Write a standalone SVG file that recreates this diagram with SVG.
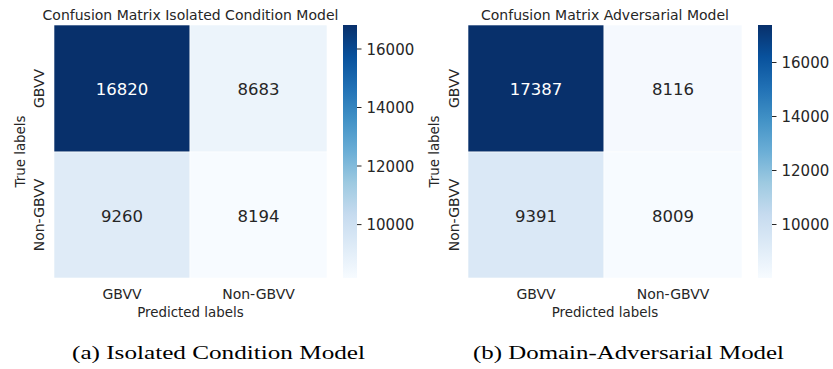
<svg xmlns="http://www.w3.org/2000/svg" width="833" height="369" viewBox="0 0 833 369">
<defs>
<linearGradient id="blues" x1="0" y1="1" x2="0" y2="0">
<stop offset="0" stop-color="#f7fbff"/>
<stop offset="0.125" stop-color="#deebf7"/>
<stop offset="0.25" stop-color="#c6dbef"/>
<stop offset="0.375" stop-color="#9ecae1"/>
<stop offset="0.5" stop-color="#6baed6"/>
<stop offset="0.625" stop-color="#4292c6"/>
<stop offset="0.75" stop-color="#2171b5"/>
<stop offset="0.875" stop-color="#08519c"/>
<stop offset="1" stop-color="#08306b"/>
</linearGradient>
<style>
text{font-family:"DejaVu Sans","Liberation Sans",sans-serif;fill:#262626}
.title{font-size:14px;text-anchor:middle}
.tick{font-size:14px;text-anchor:middle}
.cb{font-size:15px}
.axl{font-size:13.4px;text-anchor:middle}
.num{font-size:16.5px;text-anchor:middle}
.wt{fill:#ffffff}
.cell{stroke:#ffffff;stroke-width:0.6}
.tk{stroke:#262626;stroke-width:1}
.cap{font-family:"Liberation Serif","DejaVu Serif",serif;font-size:19px;fill:#000000}
</style>
</defs>
<rect width="833" height="369" fill="#ffffff"/>

<g id="matrix-a">
<text class="title" x="190.5" y="20">Confusion Matrix Isolated Condition Model</text>
<rect class="cell" x="54" y="25" width="136" height="127" fill="#08306b"/>
<rect class="cell" x="190" y="25" width="137" height="127" fill="#ecf4fb"/>
<rect class="cell" x="54" y="152" width="136" height="126" fill="#dfebf7"/>
<rect class="cell" x="190" y="152" width="137" height="126" fill="#f7fbff"/>
<text class="num wt" x="122" y="94.5">16820</text>
<text class="num" x="258.5" y="94.5">8683</text>
<text class="num" x="122" y="221.5">9260</text>
<text class="num" x="258.5" y="221.5">8194</text>
<text class="tick" x="122" y="299">GBVV</text>
<text class="tick" x="258.5" y="299">Non-GBVV</text>
<text class="axl" x="190.5" y="317">Predicted labels</text>
<text class="tick" transform="translate(44,88.5) rotate(-90)">GBVV</text>
<text class="tick" transform="translate(44,215) rotate(-90)">Non-GBVV</text>
<text class="axl" transform="translate(24.5,151.5) rotate(-90)">True labels</text>
</g>

<g id="colorbar-a">
<rect x="343" y="25" width="14" height="253" fill="url(#blues)"/>
<line class="tk" x1="357" y1="49" x2="361.5" y2="49"/>
<line class="tk" x1="357" y1="107.5" x2="361.5" y2="107.5"/>
<line class="tk" x1="357" y1="166" x2="361.5" y2="166"/>
<line class="tk" x1="357" y1="224.6" x2="361.5" y2="224.6"/>
<text class="cb" x="366.5" y="54.5">16000</text>
<text class="cb" x="366.5" y="113">14000</text>
<text class="cb" x="366.5" y="171.5">12000</text>
<text class="cb" x="366.5" y="230">10000</text>
</g>

<g id="matrix-b">
<text class="title" x="605" y="20">Confusion Matrix Adversarial Model</text>
<rect class="cell" x="468" y="25" width="136" height="127" fill="#08306b"/>
<rect class="cell" x="604" y="25" width="138" height="127" fill="#f5f9fe"/>
<rect class="cell" x="468" y="152" width="136" height="126" fill="#dae8f6"/>
<rect class="cell" x="604" y="152" width="138" height="126" fill="#f7fbff"/>
<text class="num wt" x="536" y="94.5">17387</text>
<text class="num" x="673" y="94.5">8116</text>
<text class="num" x="536" y="221.5">9391</text>
<text class="num" x="673" y="221.5">8009</text>
<text class="tick" x="536" y="299">GBVV</text>
<text class="tick" x="673" y="299">Non-GBVV</text>
<text class="axl" x="605" y="317">Predicted labels</text>
<text class="tick" transform="translate(458.5,88.5) rotate(-90)">GBVV</text>
<text class="tick" transform="translate(458.5,215) rotate(-90)">Non-GBVV</text>
<text class="axl" transform="translate(438.5,151.5) rotate(-90)">True labels</text>
</g>

<g id="colorbar-b">
<rect x="758" y="25" width="14" height="253" fill="url(#blues)"/>
<line class="tk" x1="772" y1="62.5" x2="776.5" y2="62.5"/>
<line class="tk" x1="772" y1="116.5" x2="776.5" y2="116.5"/>
<line class="tk" x1="772" y1="170.5" x2="776.5" y2="170.5"/>
<line class="tk" x1="772" y1="224.5" x2="776.5" y2="224.5"/>
<text class="cb" x="781.5" y="68">16000</text>
<text class="cb" x="781.5" y="122">14000</text>
<text class="cb" x="781.5" y="176">12000</text>
<text class="cb" x="781.5" y="230">10000</text>
</g>

<g id="captions">
<text class="cap" x="72" y="359" textLength="293" lengthAdjust="spacingAndGlyphs">(a) Isolated Condition Model</text>
<text class="cap" x="473" y="359" textLength="311" lengthAdjust="spacingAndGlyphs">(b) Domain-Adversarial Model</text>
</g>
</svg>
